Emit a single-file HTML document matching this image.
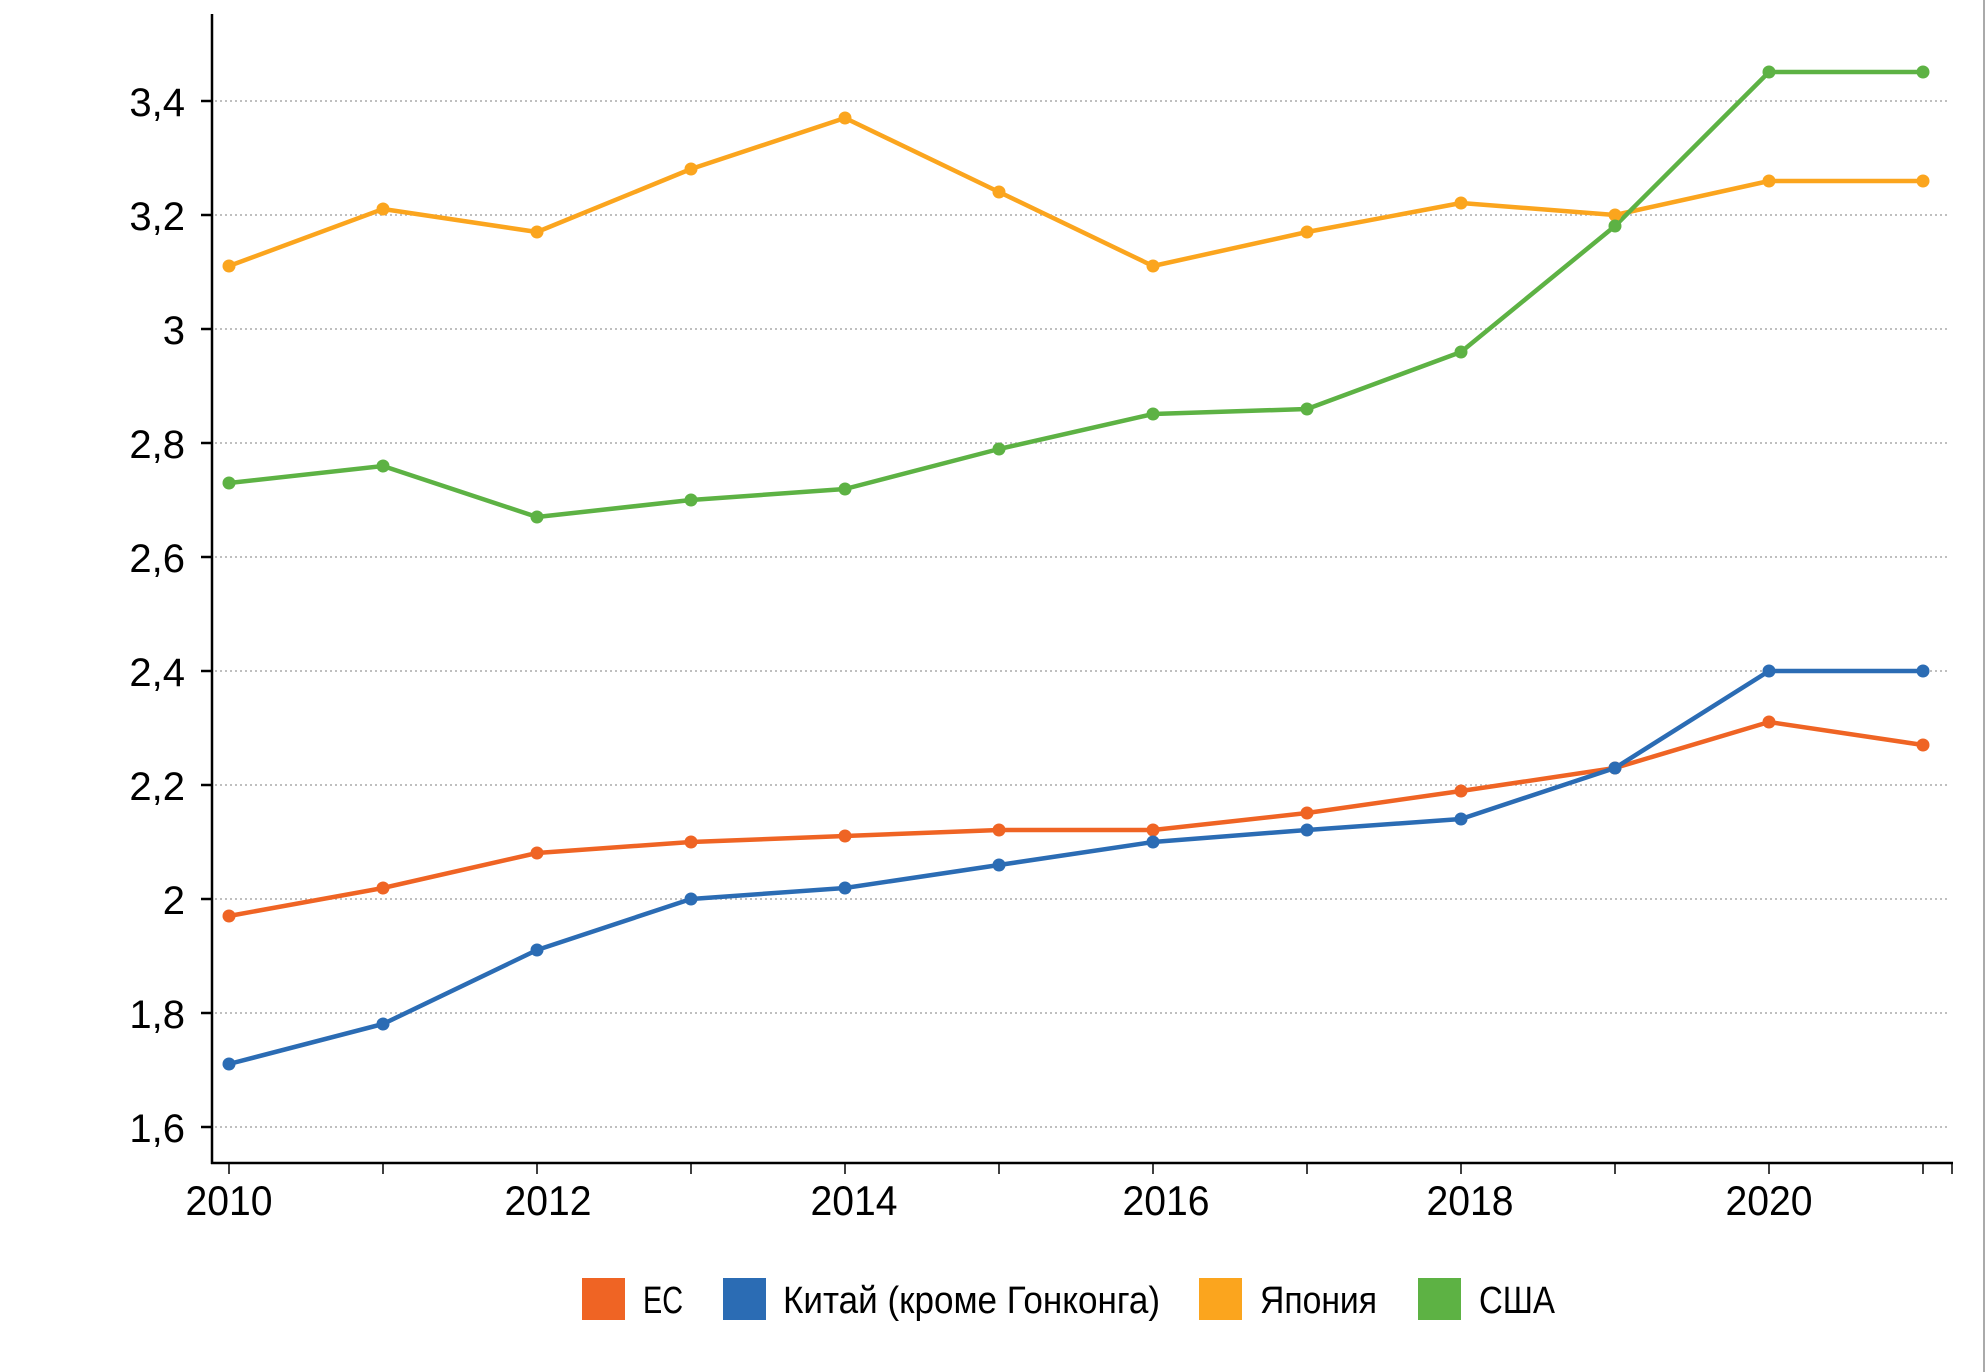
<!DOCTYPE html>
<html><head><meta charset="utf-8"><style>html,body{margin:0;padding:0;background:#fff}svg{display:block}</style></head>
<body>
<svg width="1985" height="1372" xmlns="http://www.w3.org/2000/svg" font-family="Liberation Sans, sans-serif">
<rect width="1985" height="1372" fill="#fff"/>
<line x1="1984" y1="0" x2="1984" y2="1372" stroke="#aaa" stroke-width="2"/>
<g stroke="#aaa" stroke-width="1.5" stroke-dasharray="2,3">
<line x1="215" x2="1950" y1="101" y2="101"/><line x1="215" x2="1950" y1="215" y2="215"/>
<line x1="215" x2="1950" y1="329" y2="329"/><line x1="215" x2="1950" y1="443" y2="443"/>
<line x1="215" x2="1950" y1="557" y2="557"/><line x1="215" x2="1950" y1="671" y2="671"/>
<line x1="215" x2="1950" y1="785" y2="785"/><line x1="215" x2="1950" y1="899" y2="899"/>
<line x1="215" x2="1950" y1="1013" y2="1013"/><line x1="215" x2="1950" y1="1127" y2="1127"/>
</g>
<g stroke="#000" stroke-width="2.5">
<line x1="212" y1="14" x2="212" y2="1164"/>
<line x1="211" y1="1163" x2="1953" y2="1163"/>
<line x1="201" x2="212" y1="101" y2="101"/><line x1="201" x2="212" y1="215" y2="215"/>
<line x1="201" x2="212" y1="329" y2="329"/><line x1="201" x2="212" y1="443" y2="443"/>
<line x1="201" x2="212" y1="557" y2="557"/><line x1="201" x2="212" y1="671" y2="671"/>
<line x1="201" x2="212" y1="785" y2="785"/><line x1="201" x2="212" y1="899" y2="899"/>
<line x1="201" x2="212" y1="1013" y2="1013"/><line x1="201" x2="212" y1="1127" y2="1127"/>
</g>
<g stroke="#000" stroke-width="1.5">
<line x1="229" x2="229" y1="1163" y2="1174"/><line x1="383" x2="383" y1="1163" y2="1174"/>
<line x1="537" x2="537" y1="1163" y2="1174"/><line x1="691" x2="691" y1="1163" y2="1174"/>
<line x1="845" x2="845" y1="1163" y2="1174"/><line x1="999" x2="999" y1="1163" y2="1174"/>
<line x1="1153" x2="1153" y1="1163" y2="1174"/><line x1="1307" x2="1307" y1="1163" y2="1174"/>
<line x1="1461" x2="1461" y1="1163" y2="1174"/><line x1="1615" x2="1615" y1="1163" y2="1174"/>
<line x1="1769" x2="1769" y1="1163" y2="1174"/><line x1="1923" x2="1923" y1="1163" y2="1174"/>
<line x1="1952" x2="1952" y1="1163" y2="1174"/>
</g>
<g font-size="40" fill="#000" text-anchor="end">
<text x="185" y="116">3,4</text><text x="185" y="230">3,2</text><text x="185" y="344">3</text>
<text x="185" y="458">2,8</text><text x="185" y="572">2,6</text><text x="185" y="686">2,4</text>
<text x="185" y="800">2,2</text><text x="185" y="914">2</text><text x="185" y="1028">1,8</text>
<text x="185" y="1142">1,6</text>
</g>
<g font-size="42" fill="#000" text-anchor="middle">
<text x="229" y="1215" textLength="87" lengthAdjust="spacingAndGlyphs">2010</text>
<text x="548" y="1215" textLength="87" lengthAdjust="spacingAndGlyphs">2012</text>
<text x="854" y="1215" textLength="87" lengthAdjust="spacingAndGlyphs">2014</text>
<text x="1166" y="1215" textLength="87" lengthAdjust="spacingAndGlyphs">2016</text>
<text x="1470" y="1215" textLength="87" lengthAdjust="spacingAndGlyphs">2018</text>
<text x="1769" y="1215" textLength="87" lengthAdjust="spacingAndGlyphs">2020</text>
</g>
<g fill="none" stroke-width="4.5" stroke-linejoin="round">
<polyline stroke="#FBA51E" points="229,266 383,209 537,232 691,169 845,118 999,192 1153,266 1307,232 1461,203 1615,215 1769,181 1923,181"/>
<polyline stroke="#5DB244" points="229,483 383,466 537,517 691,500 845,489 999,449 1153,414 1307,409 1461,352 1615,226 1769,72 1923,72"/>
<polyline stroke="#EF6424" points="229,916 383,888 537,853 691,842 845,836 999,830 1153,830 1307,813 1461,791 1615,768 1769,722 1923,745"/>
<polyline stroke="#2B6CB4" points="229,1064 383,1024 537,950 691,899 845,888 999,865 1153,842 1307,830 1461,819 1615,768 1769,671 1923,671"/>
</g>
<g fill="#FBA51E"><circle cx="229" cy="266" r="6.5"/><circle cx="383" cy="209" r="6.5"/><circle cx="537" cy="232" r="6.5"/><circle cx="691" cy="169" r="6.5"/><circle cx="845" cy="118" r="6.5"/><circle cx="999" cy="192" r="6.5"/><circle cx="1153" cy="266" r="6.5"/><circle cx="1307" cy="232" r="6.5"/><circle cx="1461" cy="203" r="6.5"/><circle cx="1615" cy="215" r="6.5"/><circle cx="1769" cy="181" r="6.5"/><circle cx="1923" cy="181" r="6.5"/></g>
<g fill="#5DB244"><circle cx="229" cy="483" r="6.5"/><circle cx="383" cy="466" r="6.5"/><circle cx="537" cy="517" r="6.5"/><circle cx="691" cy="500" r="6.5"/><circle cx="845" cy="489" r="6.5"/><circle cx="999" cy="449" r="6.5"/><circle cx="1153" cy="414" r="6.5"/><circle cx="1307" cy="409" r="6.5"/><circle cx="1461" cy="352" r="6.5"/><circle cx="1615" cy="226" r="6.5"/><circle cx="1769" cy="72" r="6.5"/><circle cx="1923" cy="72" r="6.5"/></g>
<g fill="#EF6424"><circle cx="229" cy="916" r="6.5"/><circle cx="383" cy="888" r="6.5"/><circle cx="537" cy="853" r="6.5"/><circle cx="691" cy="842" r="6.5"/><circle cx="845" cy="836" r="6.5"/><circle cx="999" cy="830" r="6.5"/><circle cx="1153" cy="830" r="6.5"/><circle cx="1307" cy="813" r="6.5"/><circle cx="1461" cy="791" r="6.5"/><circle cx="1615" cy="768" r="6.5"/><circle cx="1769" cy="722" r="6.5"/><circle cx="1923" cy="745" r="6.5"/></g>
<g fill="#2B6CB4"><circle cx="229" cy="1064" r="6.5"/><circle cx="383" cy="1024" r="6.5"/><circle cx="537" cy="950" r="6.5"/><circle cx="691" cy="899" r="6.5"/><circle cx="845" cy="888" r="6.5"/><circle cx="999" cy="865" r="6.5"/><circle cx="1153" cy="842" r="6.5"/><circle cx="1307" cy="830" r="6.5"/><circle cx="1461" cy="819" r="6.5"/><circle cx="1615" cy="768" r="6.5"/><circle cx="1769" cy="671" r="6.5"/><circle cx="1923" cy="671" r="6.5"/></g>
<rect x="582" y="1278" width="43" height="42" fill="#EF6424"/>
<rect x="723" y="1278" width="43" height="42" fill="#2B6CB4"/>
<rect x="1199" y="1278" width="43" height="42" fill="#FBA51E"/>
<rect x="1418" y="1278" width="43" height="42" fill="#5DB244"/>
<g font-size="38" fill="#000" font-family="Liberation Sans Narrow, Liberation Sans, sans-serif">
<text x="643" y="1313" textLength="40" lengthAdjust="spacingAndGlyphs">ЕС</text>
<text x="783" y="1313" textLength="377" lengthAdjust="spacingAndGlyphs">Китай (кроме Гонконга)</text>
<text x="1260" y="1313" textLength="117" lengthAdjust="spacingAndGlyphs">Япония</text>
<text x="1479" y="1313" textLength="76" lengthAdjust="spacingAndGlyphs">США</text>
</g>
</svg>
</body></html>
